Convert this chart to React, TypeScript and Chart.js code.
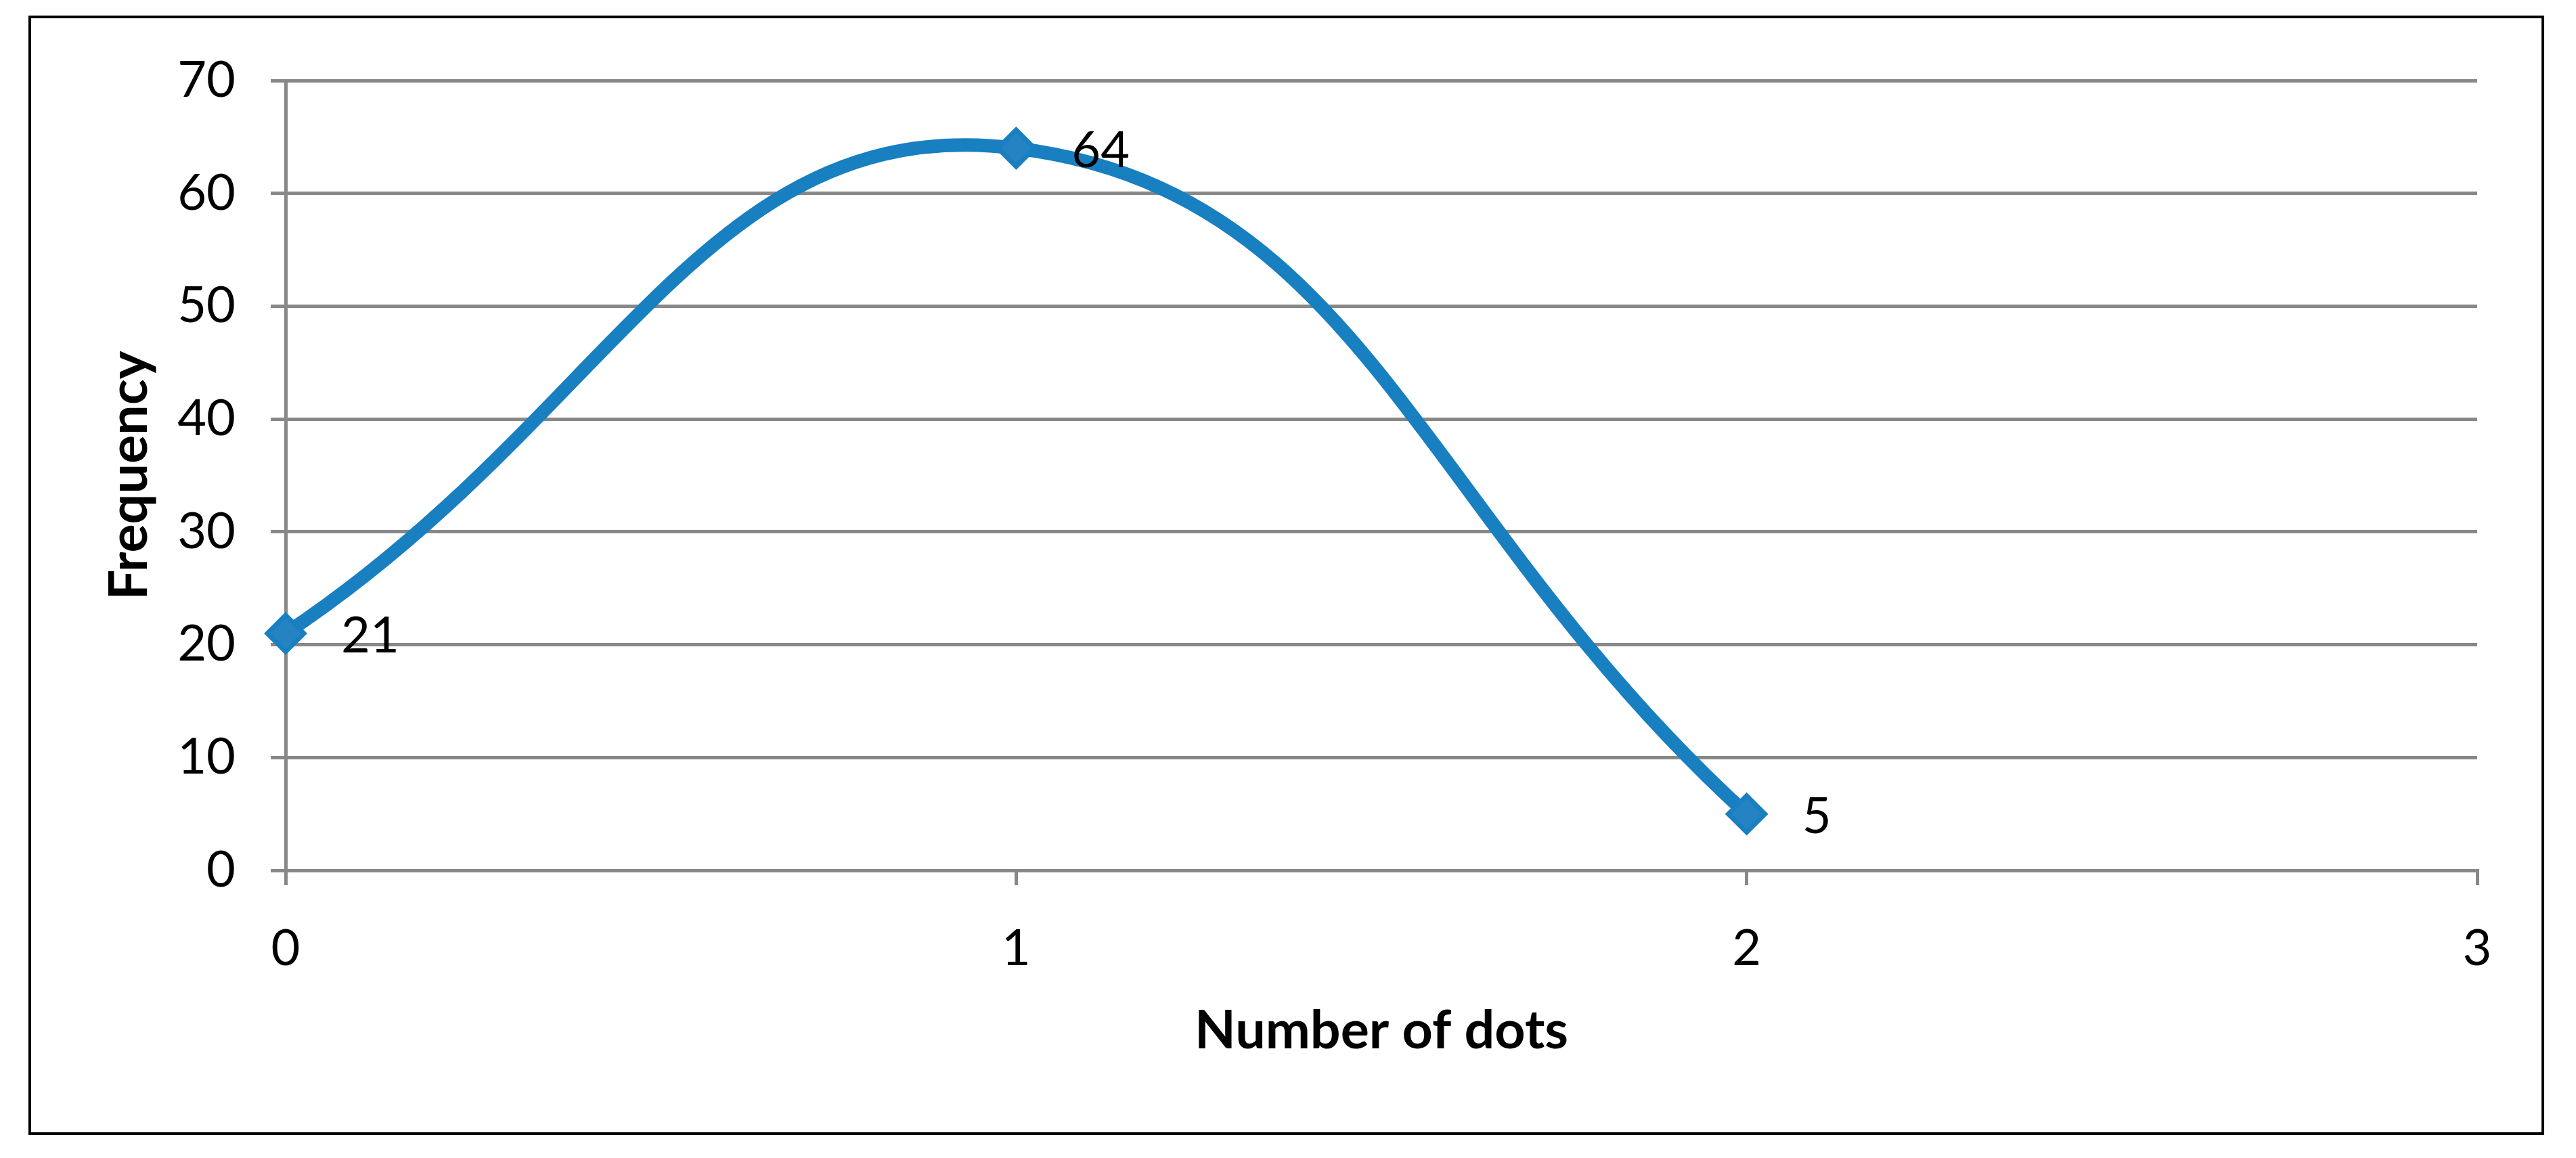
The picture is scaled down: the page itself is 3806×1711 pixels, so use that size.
import React, { useEffect, useRef } from "react";
import { Chart, registerables } from "chart.js";

Chart.register(...registerables);

// ---- data ----
const xValues: number[] = [0, 1, 2];
const frequencies: number[] = [21, 64, 5];
const xTickValues: number[] = [0, 1, 2, 3];
const yTickValues: number[] = [0, 10, 20, 30, 40, 50, 60, 70];
const xAxisTitle = "Number of dots";
const yAxisTitle = "Frequency";

const FONT = "Lato";
const LINE_COLOR = "#187FC1";
const MARKER_FILL = "#2583C3";
const GRID_COLOR = "#888888";

export default function App() {
  const canvasRef = useRef<HTMLCanvasElement | null>(null);

  useEffect(() => {
    const canvas = canvasRef.current;
    if (!canvas) return;

    const frame = {
      id: "frame",
      beforeDraw(chart: any) {
        const ctx = chart.ctx;
        ctx.save();
        ctx.fillStyle = "#ffffff";
        ctx.fillRect(0, 0, chart.width, chart.height);
        ctx.strokeStyle = "#000000";
        ctx.lineWidth = 4;
        ctx.strokeRect(44, 25, 3713, 1650);
        ctx.restore();
      },
    };

    const dataLabels = {
      id: "dataLabels",
      afterDatasetsDraw(chart: any) {
        const ctx = chart.ctx;
        const meta = chart.getDatasetMeta(0);
        ctx.save();
        ctx.fillStyle = "#000000";
        ctx.font = `74px ${FONT}`;
        ctx.textAlign = "left";
        ctx.textBaseline = "middle";
        meta.data.forEach((pt: any, i: number) => {
          ctx.fillText(String(frequencies[i]), pt.x + 82, pt.y + 4);
        });
        ctx.restore();
      },
    };

    const chart = new Chart(canvas, {
      type: "line",
      data: {
        datasets: [
          {
            label: yAxisTitle,
            data: xValues.map((x, i) => ({ x, y: frequencies[i] })),
            borderColor: LINE_COLOR,
            borderWidth: 20,
            backgroundColor: MARKER_FILL,
            pointStyle: "rectRot",
            pointRadius: 27,
            pointBorderWidth: 7,
            pointBackgroundColor: MARKER_FILL,
            pointBorderColor: LINE_COLOR,
            tension: 0.45,
            fill: false,
            clip: false as any,
          },
        ],
      },
      options: {
        animation: false,
        responsive: true,
        maintainAspectRatio: false,
        layout: { padding: { left: 0, top: 119, right: 146, bottom: 0 } },
        plugins: {
          legend: { display: false },
          tooltip: { enabled: false },
        },
        scales: {
          x: {
            type: "linear",
            position: "bottom",
            min: 0,
            max: 3,
            afterBuildTicks: (scale: any) => {
              scale.ticks = xTickValues.map((v) => ({ value: v }));
            },
            afterFit: (scale: any) => {
              scale.height = 1711 - 1286;
            },
            ticks: {
              color: "#000000",
              font: { family: FONT, size: 74 },
              padding: 50,
              maxRotation: 0,
            },
            grid: {
              drawOnChartArea: false,
              drawTicks: true,
              tickLength: 22,
              color: GRID_COLOR,
              lineWidth: 5,
            },
            border: { display: true, color: GRID_COLOR, width: 5 },
            title: {
              display: true,
              text: xAxisTitle,
              color: "#000000",
              font: { family: FONT, size: 79, weight: "bold", lineHeight: 1 },
              padding: { top: 0, bottom: 148 },
            },
          },
          y: {
            type: "linear",
            position: "left",
            min: 0,
            max: 70,
            afterBuildTicks: (scale: any) => {
              scale.ticks = yTickValues.map((v) => ({ value: v }));
            },
            afterFit: (scale: any) => {
              scale.width = 422;
            },
            ticks: {
              color: "#000000",
              font: { family: FONT, size: 74 },
              padding: 52,
            },
            grid: {
              drawOnChartArea: true,
              drawTicks: true,
              tickLength: 22,
              color: GRID_COLOR,
              lineWidth: 5,
            },
            border: { display: true, color: GRID_COLOR, width: 5 },
            title: {
              display: true,
              text: yAxisTitle,
              color: "#000000",
              font: { family: FONT, size: 79, weight: "bold", lineHeight: 1 },
              padding: { top: 152, bottom: 0 },
            },
          },
        },
      },
      plugins: [frame, dataLabels],
    });

    return () => {
      chart.destroy();
    };
  }, []);

  return (
    <div
      style={{
        position: "fixed",
        left: 0,
        top: 0,
        width: "3806px",
        height: "1711px",
        background: "#ffffff",
      }}
    >
      <canvas ref={canvasRef} />
    </div>
  );
}
